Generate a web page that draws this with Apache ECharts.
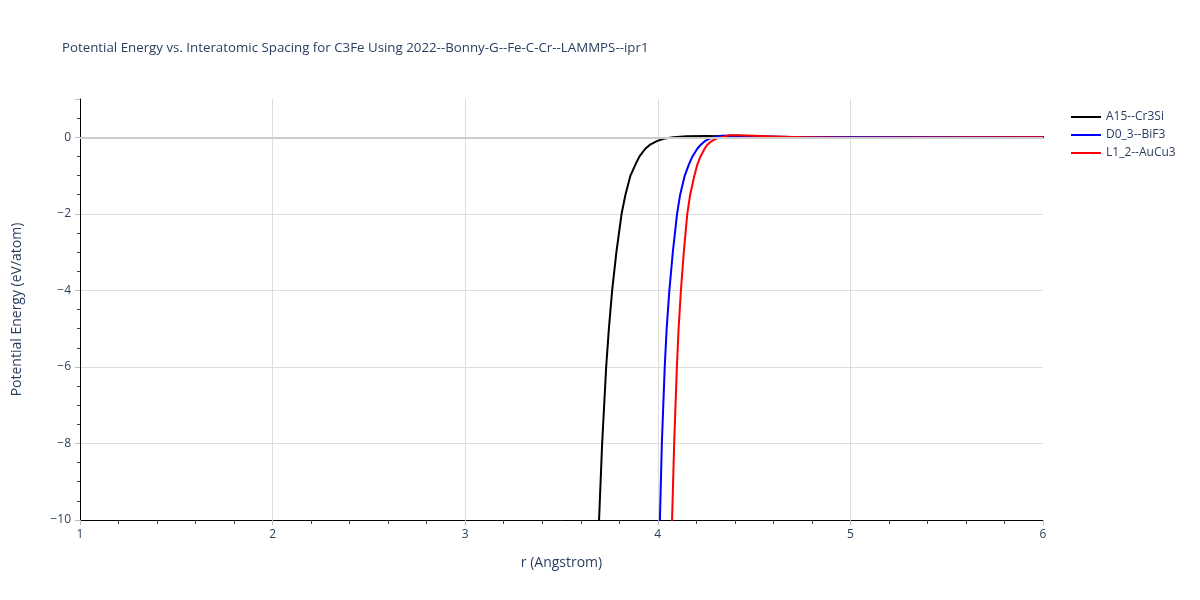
<!DOCTYPE html>
<html>
<head>
<meta charset="utf-8">
<script src="https://cdn.jsdelivr.net/npm/echarts@6/dist/echarts.min.js"></script>
<style>html,body{margin:0;padding:0;background:#fff}#c{width:1200px;height:600px}</style>
</head>
<body>
<div id="c"></div>
<script>
var seriesNames = ['A15--Cr3Si', 'D0_3--BiF3', 'L1_2--AuCu3'];
var seriesColors = ['#000000', '#0000ff', '#ff0000'];

var rA15 = [3.682, 3.695, 3.711, 3.732, 3.746, 3.763, 3.785, 3.812, 3.832, 3.858, 3.885, 3.905, 3.935, 3.958, 3.995, 4.03, 4.08, 4.15, 4.25, 4.35, 4.5, 4.7, 5.0, 5.5, 6.0];
var eA15 = [-12, -10, -8, -6, -5, -4, -3, -2, -1.5, -1, -0.7, -0.5, -0.3, -0.2, -0.1, -0.04, 0.0, 0.025, 0.03, 0.025, 0.015, 0.008, 0.0, 0.0, 0.0];

var rD03 = [4.004, 4.011, 4.021, 4.036, 4.046, 4.060, 4.078, 4.100, 4.116, 4.140, 4.162, 4.180, 4.205, 4.222, 4.245, 4.265, 4.297, 4.33, 4.38, 4.45, 4.55, 4.7, 5.0, 5.5, 6.0];
var eD03 = [-12, -10, -8, -6, -5, -4, -3, -2, -1.5, -1, -0.7, -0.5, -0.3, -0.2, -0.1, -0.04, 0.0, 0.04, 0.045, 0.035, 0.02, 0.01, 0.0, 0.0, 0.0];

var rL12 = [4.067, 4.074, 4.085, 4.099, 4.108, 4.120, 4.135, 4.153, 4.168, 4.190, 4.206, 4.222, 4.243, 4.256, 4.280, 4.300, 4.332, 4.37, 4.42, 4.5, 4.6, 4.75, 5.0, 5.5, 6.0];
var eL12 = [-12, -10, -8, -6, -5, -4, -3, -2, -1.5, -1, -0.7, -0.5, -0.3, -0.2, -0.1, -0.04, 0.0, 0.05, 0.055, 0.04, 0.02, 0.0, -0.01, -0.005, 0.0];

var xTicks = [1, 2, 3, 4, 5, 6];
var yTicks = [-10, -8, -6, -4, -2, 0];

function pairs(r, e) { return r.map(function (v, i) { return [v, e[i]]; }); }
var rs = [rA15, rD03, rL12];
var es = [eA15, eD03, eL12];

var textColor = '#2a3f5f';
var font = '"Open Sans", "Noto Sans", sans-serif';

var series = [{
  type: 'line', data: [], silent: true, z: 1,
  markLine: {
    silent: true, symbol: 'none', label: { show: false },
    lineStyle: { color: '#cccccc', width: 2, type: 'solid' },
    data: [{ yAxis: 0 }], animation: false
  }
}];
for (var i = 0; i < 3; i++) {
  series.push({
    name: seriesNames[i], type: 'line', data: pairs(rs[i], es[i]),
    showSymbol: false, smooth: false, clip: true, z: 3,
    lineStyle: { color: seriesColors[i], width: 2, join: 'round', cap: 'round' },
    itemStyle: { color: seriesColors[i] }
  });
}

var chart = echarts.init(document.getElementById('c'), null, { renderer: 'canvas' });
chart.setOption({
  animation: false,
  backgroundColor: '#ffffff',
  title: {
    text: 'Potential Energy vs. Interatomic Spacing for C3Fe Using 2022--Bonny-G--Fe-C-Cr--LAMMPS--ipr1',
    left: 57, top: 37,
    textStyle: { fontFamily: font, fontSize: 13.3, fontWeight: 'normal', color: textColor }
  },
  legend: {
    data: seriesNames, orient: 'vertical', left: 1066, top: 106,
    itemWidth: 30, itemHeight: 2, itemGap: 6, icon: 'rect',
    textStyle: { fontFamily: font, fontSize: 12, color: textColor }
  },
  grid: { left: 80, right: 157, top: 99, bottom: 80, containLabel: false },
  xAxis: {
    type: 'value', min: xTicks[0], max: xTicks[xTicks.length - 1], interval: 1,
    name: 'r (Angstrom)', nameLocation: 'middle', nameGap: 36,
    nameTextStyle: { fontFamily: font, fontSize: 14, color: textColor },
    axisLine: { show: true, onZero: false, lineStyle: { color: '#000', width: 1 } },
    axisTick: { show: true, length: 5, lineStyle: { color: '#bbbbbb' } },
    minorTick: { show: true, splitNumber: 5, length: 4, lineStyle: { color: '#444' } },
    axisLabel: { fontFamily: font, fontSize: 12, color: textColor, margin: 9 },
    splitLine: { show: true, showMinLine: false, showMaxLine: false, lineStyle: { color: '#dddddd', width: 1 } }
  },
  yAxis: {
    type: 'value', min: -10, max: 1, interval: 2,
    name: 'Potential Energy (eV/atom)', nameLocation: 'middle', nameGap: 56,
    nameTextStyle: { fontFamily: font, fontSize: 14, color: textColor },
    axisLine: { show: true, onZero: false, lineStyle: { color: '#000', width: 1 } },
    axisTick: { show: true, length: 5, lineStyle: { color: '#bbbbbb' } },
    minorTick: { show: true, splitNumber: 4, length: 3, lineStyle: { color: '#444' } },
    axisLabel: {
      fontFamily: font, fontSize: 12, color: textColor, margin: 9, showMaxLabel: false,
      formatter: function (v) { if (yTicks.indexOf(v) < 0) return ''; return v < 0 ? '\u2212' + Math.abs(v) : String(v); }
    },
    splitLine: { show: true, showMinLine: false, showMaxLine: false, lineStyle: { color: '#dddddd', width: 1 } }
  },
  series: series
});
</script>
</body>
</html>
